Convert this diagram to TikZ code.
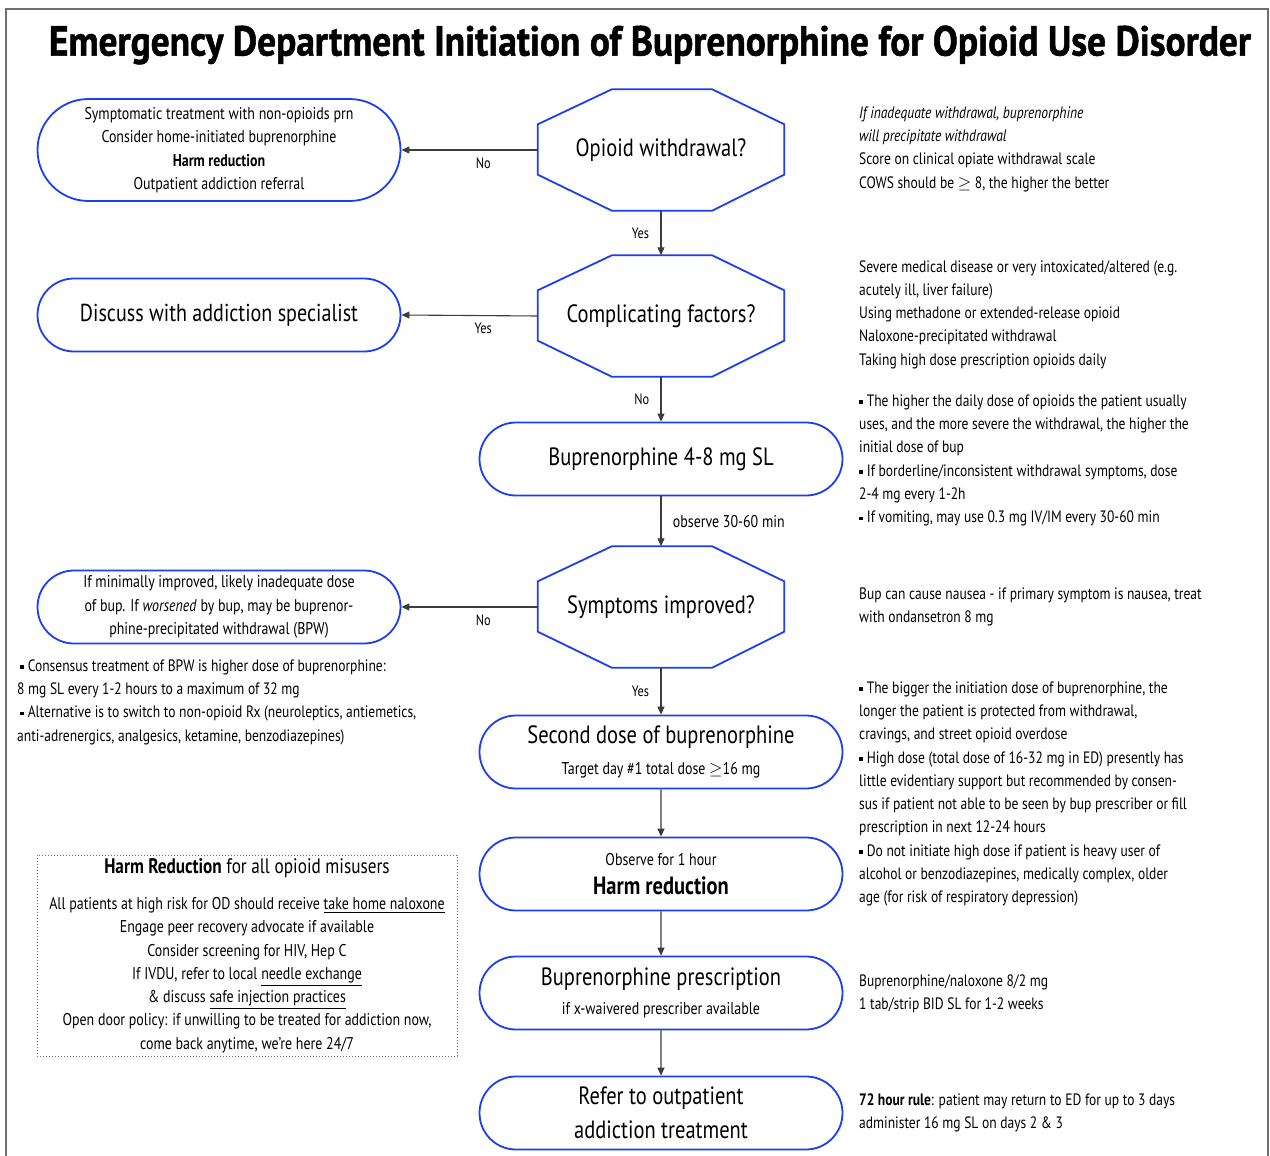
\documentclass[tikz,border=0pt]{standalone}
\usepackage{fontspec}
\setmainfont{PT Sans}[FakeStretch=0.82]
\newfontfamily\headfont{PT Sans}[FakeStretch=0.89, BoldFeatures={FakeBold=1.2}]
\usepackage{xcolor}
\usepackage{amsmath, amssymb}
\usepackage{tikz}
\usetikzlibrary{arrows.meta, positioning, calc, shapes.misc}
\definecolor{flowblue}{RGB}{28,62,240}
\definecolor{linegray}{RGB}{60,60,60}
\definecolor{framegray}{RGB}{110,110,110}
\newcommand{\notesize}{\fontsize{16.5}{23.3}\selectfont}
\newcommand{\smallsize}{\fontsize{17}{23.3}\selectfont}
\newcommand{\bigsize}{\fontsize{25}{34}\selectfont}
\newcommand{\twosize}{\fontsize{17}{30.5}\selectfont}
\newcommand{\sqb}{\hspace{3pt}\rule[0.3ex]{0.22em}{0.22em}\hspace{4pt}}
\tikzset{
	flowbox/.style={draw=flowblue, line width=1.8pt, rounded rectangle, minimum width=363pt, minimum height=73pt, align=center, inner sep=0pt, fill=white},
	decbox/.style={minimum width=246pt, minimum height=121pt, inner sep=0pt, font=\bigsize},
	flowarr/.style={draw=linegray, line width=1.1pt, -{Triangle[length=8pt, width=7pt]}},
	edgelbl/.style={font=\fontsize{15}{17}\selectfont},
	notetext/.style={anchor=west, align=left, inner sep=0pt, font=\notesize},
}
\newcommand{\octo}[1]{%
	\draw[flowblue, line width=1.8pt] ($(#1.north west)+(74,0)$) -- ($(#1.north east)+(-72,0)$) -- ($(#1.north east)+(0,35)$) -- ($(#1.south east)+(0,-36)$) -- ($(#1.south east)+(-72,0)$) -- ($(#1.south west)+(74,0)$) -- ($(#1.south west)+(0,-36)$) -- ($(#1.north west)+(0,35)$) -- cycle;}

\begin{document}
\begin{tikzpicture}[x=1pt, y=-1pt, >=Stealth]
	\useasboundingbox (0,0) rectangle (1270,1156);
	\fill[white] (0,0) rectangle (1270,1156);
	\draw[framegray, line width=1.5pt] (6,1160) -- (6,9) -- (1268,9) -- (1268,1160);
	\node[font=\headfont\bfseries\fontsize{42}{48}\selectfont] (title) at (650,45) {Emergency Department Initiation of Buprenorphine for Opioid Use Disorder};

	% main column
	\node[decbox] (withdraw) at (661,150) {Opioid withdrawal?};
	\octo{withdraw}
	\node[decbox] (complic) at (661,316) {Complicating factors?};
	\octo{complic}
	\node[flowbox, font=\bigsize] (firstdose) at (661,459) {Buprenorphine 4-8 mg SL};
	\node[decbox] (improved) at (661,607) {Symptoms improved?};
	\octo{improved}
	\node[flowbox, font=\twosize] (seconddose) at (661,752) {{\bigsize Second dose of buprenorphine}\\{\smallsize Target day \#1 total dose $\geq$16 mg}};
	\node[flowbox, font=\fontsize{17}{29}\selectfont] (observe) at (661,874) {{\smallsize Observe for 1 hour}\\{\bigsize\bfseries Harm reduction}};
	\node[flowbox, font=\fontsize{17}{29}\selectfont] (rx) at (661,993) {{\bigsize Buprenorphine prescription}\\{\smallsize if x-waivered prescriber available}};
	\node[flowbox, font=\bigsize] (refer) at (661,1113) {Refer to outpatient\\addiction treatment};

	% left column
	\node[flowbox, minimum height=102pt, font=\smallsize] (symptomatic) at (219,150) {Symptomatic treatment with non-opioids prn\\Consider home-initiated buprenorphine\\\textbf{Harm reduction}\\Outpatient addiction referral};
	\node[flowbox, font=\fontsize{24.5}{30}\selectfont] (specialist) at (219,315) {Discuss with addiction specialist};
	\node[flowbox, font=\smallsize] (bpw) at (219,607) {If minimally improved, likely inadequate dose\\of bup. If \textit{worsened} by bup, may be buprenor-\\phine-precipitated withdrawal (BPW)};
	\node[notetext] (bpwnote) at (17,702) {\sqb Consensus treatment of BPW is higher dose of buprenorphine:\\8 mg SL every 1-2 hours to a maximum of 32 mg\\\sqb Alternative is to switch to non-opioid Rx (neuroleptics, antiemetics,\\anti-adrenergics, analgesics, ketamine, benzodiazepines)};
	\node[draw=framegray, dotted, line width=1pt, minimum width=420pt, minimum height=201pt, align=center, inner sep=0pt, font=\smallsize] (harmbox) at (247,955.5) {{\fontsize{21}{26}\selectfont\textbf{Harm Reduction} for all opioid misusers}\\[13pt]All patients at high risk for OD should receive \underline{take home naloxone}\\Engage peer recovery advocate if available\\Consider screening for HIV, Hep C\\If IVDU, refer to local \underline{needle exchange}\\\& discuss \underline{safe injection practices}\\Open door policy: if unwilling to be treated for addiction now,\\come back anytime, we're here 24/7};

	% right column
	\node[notetext] (withdrawnote) at (859,149) {\textit{If inadequate withdrawal, buprenorphine}\\\textit{will precipitate withdrawal}\\Score on clinical opiate withdrawal scale\\COWS should be $\geq$ 8, the higher the better};
	\node[notetext] (complicnote) at (859,314.5) {Severe medical disease or very intoxicated/altered (e.g.\\acutely ill, liver failure)\\Using methadone or extended-release opioid\\Naloxone-precipitated withdrawal\\Taking high dose prescription opioids daily};
	\node[notetext] (dosenote) at (856,460.5) {\sqb The higher the daily dose of opioids the patient usually\\\hspace{3pt}uses, and the more severe the withdrawal, the higher the\\\hspace{3pt}initial dose of bup\\\sqb If borderline/inconsistent withdrawal symptoms, dose\\\hspace{3pt}2-4 mg every 1-2h\\\sqb If vomiting, may use 0.3 mg IV/IM every 30-60 min};
	\node[notetext] (nauseanote) at (859,607) {Bup can cause nausea - if primary symptom is nausea, treat\\with ondansetron 8 mg};
	\node[notetext] (highnote) at (856,794) {\sqb The bigger the initiation dose of buprenorphine, the\\\hspace{3pt}longer the patient is protected from withdrawal,\\\hspace{3pt}cravings, and street opioid overdose\\\sqb High dose (total dose of 16-32 mg in ED) presently has\\\hspace{3pt}little evidentiary support but recommended by consen-\\\hspace{3pt}sus if patient not able to be seen by bup prescriber or fill\\\hspace{3pt}prescription in next 12-24 hours\\\sqb Do not initiate high dose if patient is heavy user of\\\hspace{3pt}alcohol or benzodiazepines, medically complex, older\\\hspace{3pt}age (for risk of respiratory depression)};
	\node[notetext] (rxnote) at (859,993.5) {Buprenorphine/naloxone 8/2 mg\\1 tab/strip BID SL for 1-2 weeks};
	\node[notetext] (rulenote) at (859,1112.5) {\textbf{72 hour rule}: patient may return to ED for up to 3 days\\administer 16 mg SL on days 2 \& 3};

	% connectors
	\draw[flowarr] (withdraw.west) -- (symptomatic.east) node[pos=0.4, below=4pt, edgelbl] {No};
	\draw[flowarr] (withdraw.south) -- (complic.north) node[midway, left=8pt, edgelbl] {Yes};
	\draw[flowarr] (complic.west) -- (specialist.east) node[pos=0.4, below=4pt, edgelbl] {Yes};
	\draw[flowarr] (complic.south) -- (firstdose.north) node[midway, left=8pt, edgelbl] {No};
	\draw[flowarr] (firstdose.south) -- (improved.north) node[midway, right=8pt, edgelbl, font=\smallsize] {observe 30-60 min};
	\draw[flowarr] (improved.west) -- (bpw.east) node[pos=0.4, below=4pt, edgelbl] {No};
	\draw[flowarr] (improved.south) -- (seconddose.north) node[midway, left=8pt, edgelbl] {Yes};
	\draw[flowarr] (seconddose) -- (observe);
	\draw[flowarr] (observe) -- (rx);
	\draw[flowarr] (rx) -- (refer);
\end{tikzpicture}
\end{document}
